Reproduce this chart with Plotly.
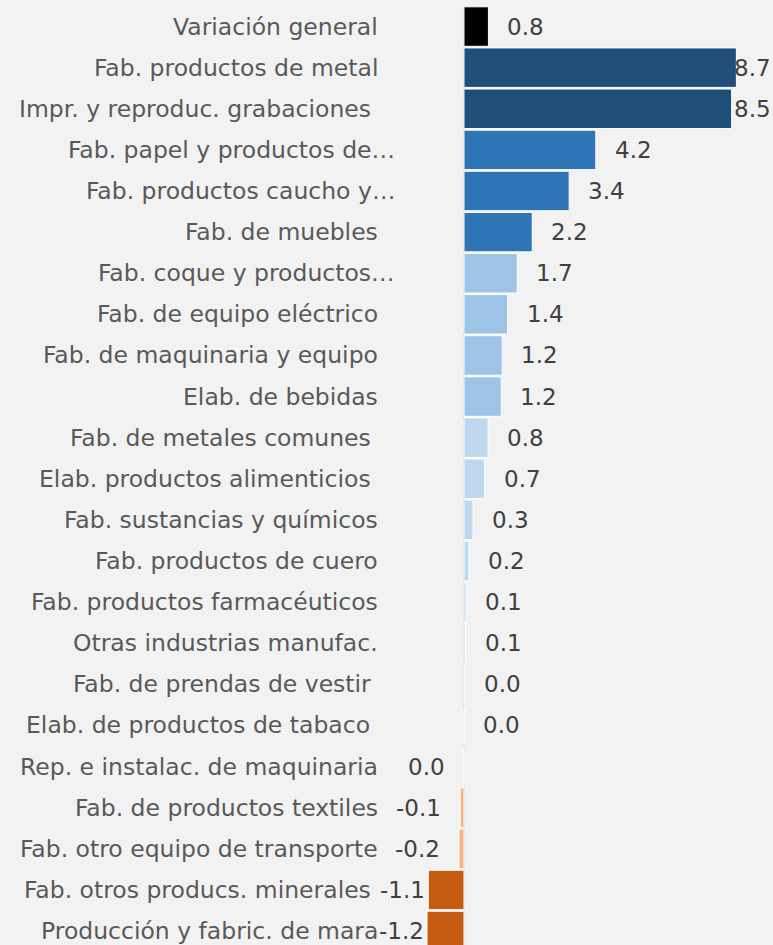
import plotly.graph_objects as go

categories = [
    "Variación general",
    "Fab. productos de metal",
    "Impr. y reproduc. grabaciones\u00a0",
    "Fab. papel y productos de…",
    "Fab. productos caucho y…",
    "Fab. de muebles",
    "Fab. coque y productos…",
    "Fab. de equipo eléctrico",
    "Fab. de maquinaria y equipo",
    "Elab. de bebidas",
    "Fab. de metales comunes\u00a0",
    "Elab. productos alimenticios\u00a0",
    "Fab. sustancias y químicos",
    "Fab. productos de cuero",
    "Fab. productos farmacéuticos",
    "Otras industrias manufac.",
    "Fab. de prendas de vestir\u00a0",
    "Elab. de productos de tabaco\u00a0",
    "Rep. e instalac. de maquinaria",
    "Fab. de productos textiles",
    "Fab. otro equipo de transporte",
    "Fab. otros producs. minerales\u00a0",
    "Producción y fabric. de mara",
]
values = [0.78, 8.70, 8.55, 4.21, 3.36, 2.18, 1.70, 1.39, 1.22, 1.19, 0.77,
          0.66, 0.29, 0.16, 0.07, 0.05, 0.02, 0.01, -0.01, -0.12, -0.16,
          -1.14, -1.18]
value_labels = ["0.8", "8.7", "8.5", "4.2", "3.4", "2.2", "1.7", "1.4", "1.2",
                "1.2", "0.8", "0.7", "0.3", "0.2", "0.1", "0.1", "0.0", "0.0",
                "0.0", "-0.1", "-0.2", "-1.1", "-1.2"]
groups = ["total", "g1", "g1", "g2", "g2", "g2", "g3", "g3", "g3", "g3", "g4",
          "g4", "g4", "g4", "g4", "g4", "g4", "g4", "n1", "n1", "n1", "n2", "n2"]

palette = {"total": "#000000", "g1": "#1f4e79", "g2": "#2e75b6",
           "g3": "#9dc3e6", "g4": "#bdd7ee", "n1": "#f4b183", "n2": "#c55a11"}
colors = [palette[g] for g in groups]

W, H = 773, 945
x_range = [-14.82, 9.87]
ypos = list(range(len(categories)))

LABEL_FONT = dict(family="DejaVu Sans", size=23.5, color="#595959")
VALUE_FONT = dict(family="DejaVu Sans", size=23, color="#404040")

fig = go.Figure()
fig.add_trace(go.Bar(
    y=ypos, x=values, orientation="h",
    marker=dict(color=colors, line=dict(color="#ffffff", width=1)),
    hoverinfo="skip",
))

annotations = []
for i, (cat, v, lab) in enumerate(zip(categories, values, value_labels)):
    shift = -67 if cat.endswith("…") else -84
    annotations.append(dict(x=0, y=i, xref="x", yref="y", text=cat,
                            showarrow=False, xanchor="right", xshift=shift,
                            font=LABEL_FONT))
    if v >= 0:
        if v > 8.2:
            annotations.append(dict(x=1, y=i, xref="paper", yref="y", text=lab,
                                    showarrow=False, xanchor="right", xshift=0,
                                    font=VALUE_FONT))
        else:
            annotations.append(dict(x=v, y=i, xref="x", yref="y", text=lab,
                                    showarrow=False, xanchor="left", xshift=17,
                                    font=VALUE_FONT))
    else:
        annotations.append(dict(x=v, y=i, xref="x", yref="y", text=lab,
                                showarrow=False, xanchor="right",
                                xshift=-17 if v > -0.5 else -1,
                                font=VALUE_FONT))

fig.update_layout(
    width=W, height=H,
    margin=dict(l=0, r=0, t=6, b=0),
    paper_bgcolor="#f2f2f2", plot_bgcolor="#f2f2f2",
    bargap=0.04, showlegend=False,
    xaxis=dict(range=x_range, showgrid=False, showticklabels=False,
               zeroline=True, zerolinecolor="#d9d9d9", zerolinewidth=2,
               fixedrange=True),
    yaxis=dict(range=[22.34, -0.5], showgrid=False, showticklabels=False,
               zeroline=False, fixedrange=True),
    annotations=annotations,
)

fig.write_html(
    "out.html",
    config={"displayModeBar": False},
    post_script="document.body.style.margin='0';"
                "document.body.style.background='#f2f2f2';"
                "document.body.style.overflow='hidden';",
)
